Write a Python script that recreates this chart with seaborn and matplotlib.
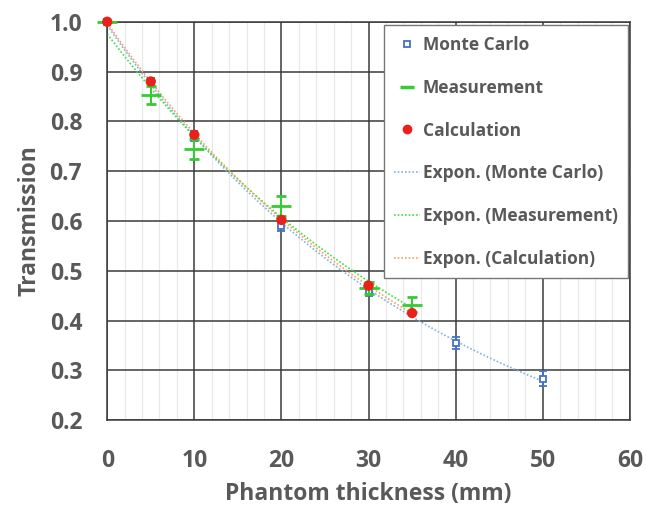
import numpy as np
import pandas as pd
import seaborn as sns
import matplotlib.pyplot as plt
from matplotlib.lines import Line2D

sns.set_theme(style="white")
plt.rcParams['font.family'] = ['Open Sans', 'DejaVu Sans']

# data
mc_x = [0, 5, 10, 20, 30, 40, 50]
mc_y = [1.0, 0.878, 0.770, 0.590, 0.460, 0.355, 0.283]
mc_err = [0.005, 0.008, 0.010, 0.010, 0.010, 0.012, 0.015]

meas_x = [0, 5, 10, 20, 30, 35]
meas_y = [1.0, 0.853, 0.745, 0.630, 0.465, 0.432]
meas_err = [0.0, 0.018, 0.020, 0.020, 0.012, 0.015]

calc_x = [0, 5, 10, 20, 30, 35]
calc_y = [1.0, 0.880, 0.773, 0.602, 0.470, 0.415]

grey = "#595959"
blue, green, red = "#4472c4", "#33cc33", "#e8221b"
fit_cols = ["#7fb2e5", "#44dd44", "#f4a261"]


def expon_fit(x, y, xmax):
    b, lna = np.polyfit(x, np.log(y), 1)
    xs = np.linspace(0, xmax, 100)
    return pd.DataFrame({"x": xs, "y": np.exp(lna) * np.exp(b * xs)})


fig, ax = plt.subplots(figsize=(6.46, 5.05), dpi=100)
fig.subplots_adjust(left=0.166, right=0.975, top=0.957, bottom=0.168)

# grid
ax.set_xticks(range(0, 61, 10))
ax.set_xticks(range(0, 61, 2), minor=True)
ax.set_yticks(np.arange(0.2, 1.01, 0.1))
ax.grid(True, which="major", color="#3a3a3a", lw=1.1)
ax.grid(True, which="minor", axis="x", color="#e8e8e8", lw=0.8)
ax.set_axisbelow(True)

# exponential trendlines
fit_mc = expon_fit(mc_x, mc_y, 50)
fit_meas = expon_fit(meas_x, meas_y, 35)
fit_calc = expon_fit(calc_x, calc_y, 35)
dots = (0, (1, 1.2))
sns.lineplot(data=fit_mc, x="x", y="y", ax=ax, color=fit_cols[0], lw=1.2,
             ls=dots, zorder=2)
sns.lineplot(data=fit_meas, x="x", y="y", ax=ax, color=fit_cols[1], lw=1.2,
             ls=dots, zorder=2)
sns.lineplot(data=fit_calc, x="x", y="y", ax=ax, color=fit_cols[2], lw=1.2,
             ls=dots, zorder=2)

# data with error bars
ax.errorbar(mc_x, mc_y, yerr=mc_err, fmt="s", mfc="white", mec=blue,
            ecolor=blue, ms=5, mew=1.3, capsize=3, lw=1.2, zorder=3,
            clip_on=False)
ax.errorbar(meas_x, meas_y, yerr=meas_err, fmt="_", color=green,
            ms=14, mew=2, capsize=3.5, lw=1.5, zorder=4, clip_on=False)
sns.scatterplot(x=calc_x, y=calc_y, ax=ax, color=red, s=55,
                edgecolor="none", zorder=5, clip_on=False)

ax.set_xlim(0, 60)
ax.set_ylim(0.2, 1.0)
ax.set_yticklabels([f"{v:.1f}" for v in np.arange(0.2, 1.01, 0.1)])
ax.tick_params(axis="x", length=0, labelsize=16.5, labelcolor=grey, pad=21)
ax.tick_params(axis="y", length=0, labelsize=16.5, labelcolor=grey, pad=18)
for lab in ax.get_xticklabels() + ax.get_yticklabels():
    lab.set_fontweight("bold")
ax.set_xlabel("Phantom thickness (mm)", fontsize=16.5, fontweight="bold",
              color=grey, labelpad=6)
ax.set_ylabel("Transmission", fontsize=16.5, fontweight="bold", color=grey,
              labelpad=6)
for sp in ax.spines.values():
    sp.set_color("#3a3a3a")
    sp.set_linewidth(1.1)

handles = [
    Line2D([], [], ls="none", marker="s", mfc="white", mec=blue, ms=5, mew=1.3),
    Line2D([], [], ls="none", marker="_", color=green, ms=10, mew=2.5),
    Line2D([], [], ls="none", marker="o", color=red, ms=6),
    Line2D([], [], color=fit_cols[0], lw=1.2, ls=dots),
    Line2D([], [], color=fit_cols[1], lw=1.2, ls=dots),
    Line2D([], [], color=fit_cols[2], lw=1.2, ls=dots),
]
labels = ["Monte Carlo", "Measurement", "Calculation", "Expon. (Monte Carlo)",
          "Expon. (Measurement)", "Expon. (Calculation)"]
leg = ax.legend(handles, labels, loc="upper right",
                bbox_to_anchor=(1.0, 0.995), frameon=True, fancybox=False,
                handlelength=1.5, labelspacing=1.43, borderpad=0.6,
                handletextpad=0.15, borderaxespad=0.1,
                prop={"weight": "bold", "size": 12.5})
leg.get_frame().set_edgecolor("#777777")
leg.get_frame().set_linewidth(1.0)
leg.get_frame().set_alpha(1)
for t in leg.get_texts():
    t.set_color(grey)

plt.savefig("out.png", dpi=100)
